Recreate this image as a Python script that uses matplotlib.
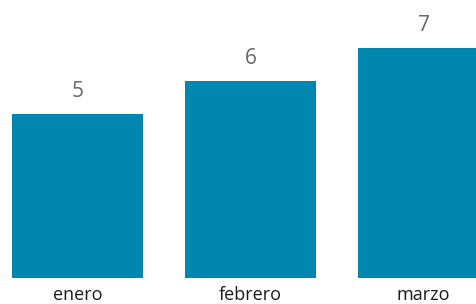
import matplotlib.pyplot as plt

months = ['enero', 'febrero', 'marzo']
values = [5, 6, 7]

plt.rcParams['font.family'] = ['Open Sans', 'DejaVu Sans']

fig = plt.figure(figsize=(4.77, 3.04), dpi=100)
ax = fig.add_axes([0, 0.0865, 1, 0.9135])
x = range(len(months))
bars = ax.bar(x, values, width=0.757, color='#0087b0')
for b, v in zip(bars, values):
    ax.text(b.get_x() + b.get_width() / 2, v + 0.38, str(v), ha='center', va='bottom',
            fontsize=15, color='#666666')

ax.set_xlim(-0.448, 2.309)
ax.set_ylim(0, 8.48)
ax.set_xticks(list(x))
ax.set_xticklabels(months, fontsize=13, color='#1a1a1a')
ax.tick_params(axis='x', length=0, pad=6)
ax.set_yticks([])
for s in ax.spines.values():
    s.set_visible(False)

fig.savefig('out.png', dpi=100)
